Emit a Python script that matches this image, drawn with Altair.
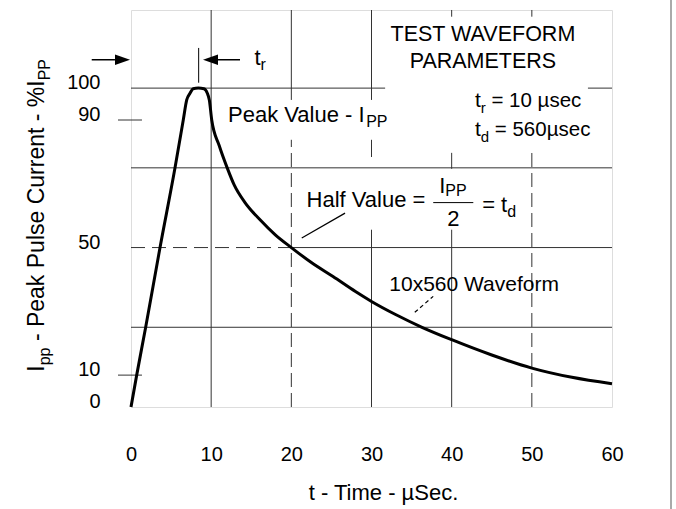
import altair as alt
import pandas as pd

FONT = "Liberation Sans"

# ---- waveform (time in µs, current in % of Ipp) ----
time_us = [0, 0.71, 1.83, 3.62, 5.49, 6.52, 6.95, 7.36, 7.75, 8.4, 9.1, 9.52, 9.77,
           10.07, 11.0, 12.0, 12.9, 14.2, 16.1, 18.0, 20.0, 22.5, 25.2, 28.0, 30.0,
           33.0, 36.3, 40.0, 45.0, 50.0, 55.0, 60.0]
current_pct = [0, 10, 25, 50, 75, 90, 96.3, 98.4, 99.8, 100, 99.8, 98.4, 96.3,
               90, 82, 75, 69.5, 64.2, 58.7, 54, 50, 45.3, 40.9, 36.2, 33.1,
               29, 25, 21.1, 16.3, 12.2, 9.3, 7.3]

x_ticks = [0, 10, 20, 30, 40, 50, 60]
y_labels = [0, 10, 50, 90, 100]
y_small_ticks = [10, 90]

# grid segments (as drawn on the datasheet, with gaps behind the text)
h_grid_v = [25, 50, 75, 100, 100]
h_grid_t1 = [0, 20, 0, 0, 57.0]
h_grid_t2 = [60, 60, 60, 31.7, 60]
h_dash_v = [50]
h_dash_t1 = [0]
h_dash_t2 = [20]
v_grid_t = [10, 20, 30, 30, 30, 40, 40, 40, 50]
v_grid_v1 = [0, 96.3, 96.3, 78.4, 0, 122.4, 74.7, 0, 122.4]
v_grid_v2 = [124.5, 124.5, 124.5, 83.8, 55.6, 124.5, 79.7, 55.6, 124.5]
v_dash_t = [20, 50]
v_dash_v1 = [0, 0]
v_dash_v2 = [83.8, 79.7]

xs = alt.Scale(domain=[0, 60], nice=False, zero=False)
ys = alt.Scale(domain=[0, 124.5], nice=False, zero=False)

AX = alt.Axis(
    values=x_ticks, title="t - Time - µSec.", grid=False, ticks=False, tickSize=0,
    domain=False, labelFontSize=20, labelFont=FONT, labelColor="black",
    labelPadding=47, labelBaseline="middle", labelFlush=False, labelOverlap=False,
    titleFont=FONT, titleFontSize=22, titleFontWeight="normal", titleColor="black",
    titleX=252, titleY=92, titleAlign="center", titleBaseline="alphabetic")
AY = alt.Axis(
    values=y_labels, title=None, grid=False, ticks=False, tickSize=0, domain=False,
    labelFontSize=20, labelFont=FONT, labelColor="black", labelPadding=31,
    labelBaseline="middle", labelOffset=-5.5, labelFlush=False, labelOverlap=False)

# Arial / Liberation Sans advance widths (per 1000 em)
W = {' ': 278, '-': 333, '%': 889, '.': 278, '=': 584, 'µ': 576,
     'A': 667, 'C': 722, 'D': 722, 'E': 667, 'F': 611, 'H': 722, 'I': 278, 'M': 833,
     'O': 778, 'P': 667, 'R': 722, 'S': 667, 'T': 611, 'V': 667, 'W': 944,
     'a': 556, 'c': 500, 'd': 556, 'e': 556, 'f': 278, 'i': 222, 'k': 500, 'l': 222,
     'm': 833, 'n': 556, 'o': 556, 'p': 556, 'r': 333, 's': 500, 't': 278, 'u': 556,
     'v': 500, 'x': 500}


def tw(s, size):
    return sum(W.get(c, 556) for c in s) * size / 1000.0


def X(f):
    return alt.X(f, type="quantitative", scale=xs, axis=AX)


def Y(f):
    return alt.Y(f, type="quantitative", scale=ys, axis=AY)


def txt(t, v, s, size=21, align="left", dx=0, dy=0, angle=0, baseline="middle"):
    df = pd.DataFrame({"t": [t], "v": [v], "label": [s]})
    props = dict(align=align, baseline=baseline, fontSize=size, color="black", font=FONT)
    if dx:
        props["dx"] = dx
    if dy:
        props["dy"] = dy
    if angle:
        props["angle"] = angle
    return alt.Chart(df).mark_text(**props).encode(x=X("t"), y=Y("v"), text="label:N")


def rich(t, v, pieces, angle=0, baseline="middle"):
    """pieces: (text, size, dy); leading spaces become an offset, not glyphs."""
    out = []
    off = 0.0
    for s, size, dy in pieces:
        stripped = s.lstrip(" ")
        off += tw(s[: len(s) - len(stripped)], size)
        out.append(txt(t, v, stripped, size=size, dx=off, dy=dy, angle=angle, baseline=baseline))
        off += tw(stripped, size)
    return out


def seg_h(vs, t1, t2, dash=None, color="#333", width=1):
    df = pd.DataFrame({"v": vs, "t": t1, "t2": t2})
    props = dict(color=color, strokeWidth=width)
    if dash:
        props["strokeDash"] = dash
    return alt.Chart(df).mark_rule(**props).encode(x=X("t"), x2="t2", y=Y("v"))


def seg_v(ts, v1, v2, dash=None, color="#333", width=1):
    df = pd.DataFrame({"t": ts, "v": v1, "v2": v2})
    props = dict(color=color, strokeWidth=width)
    if dash:
        props["strokeDash"] = dash
    return alt.Chart(df).mark_rule(**props).encode(x=X("t"), y=Y("v"), y2="v2")


layers = []

curve_df = pd.DataFrame({"t": time_us, "v": current_pct})
base = alt.Chart(curve_df).mark_line(color="black", strokeWidth=3, interpolate="monotone").encode(
    x=X("t"), y=Y("v"))

# grid
layers.append(seg_h(h_grid_v, h_grid_t1, h_grid_t2))
layers.append(seg_h(h_dash_v, h_dash_t1, h_dash_t2, dash=[14, 7]))
layers.append(seg_v(v_grid_t, v_grid_v1, v_grid_v2))
layers.append(seg_v(v_dash_t, v_dash_v1, v_dash_v2, dash=[14, 6]))

# small y ticks crossing the axis at 10 and 90
layers.append(seg_h(y_small_ticks, [-1.62, -1.62], [1.37, 1.37]))

layers.append(base)

# rise-time markers
layers.append(seg_h([108.9], [-4.9], [-2.0], width=1.5, color="black"))
layers.append(seg_h([108.9], [10.85], [13.6], width=1.5, color="black"))
layers.append(seg_v([8.44], [101.7], [112.6], color="black"))
arrows = pd.DataFrame({"t": [-1.06], "v": [108.9]})
layers.append(alt.Chart(arrows).mark_point(shape="M-1,-0.7L1,0L-1,0.7Z", size=225, filled=True,
                                           color="black", opacity=1).encode(x=X("t"), y=Y("v")))
arrows2 = pd.DataFrame({"t": [9.92], "v": [108.9]})
layers.append(alt.Chart(arrows2).mark_point(shape="M1,-0.7L-1,0L1,0.7Z", size=225, filled=True,
                                            color="black", opacity=1).encode(x=X("t"), y=Y("v")))
layers += rich(15.4, 109.5, [("t", 22, 0), ("r", 16, 7)])

# parameter box text
layers.append(txt(43.9, 116.7, "TEST WAVEFORM", size=21.5, align="center"))
layers.append(txt(43.9, 108.2, "PARAMETERS", size=21.5, align="center"))
layers += rich(42.9, 95.9, [("t", 21, 0), ("r", 15, 7), (" = 10 µsec", 20.5, 0)])
layers += rich(42.9, 86.9, [("t", 21, 0), ("d", 15, 7), (" = 560µsec", 20.5, 0)])

# peak value
layers += rich(12.1, 91.5, [("Peak Value - I", 22, 0), ("PP", 16, 7)])

# half value
layers.append(txt(21.9, 64.8, "Half Value =", size=22))
layers += rich(38.45, 69.3, [("I", 22, 0), ("PP", 16, 5)])
layers.append(seg_h([64.1], [37.7], [42.7], color="black"))
layers.append(txt(40.2, 58.99, "2", size=22, align="center"))
layers += rich(43.8, 63.4, [("=", 22, 0), (" t", 22, 0), ("d", 16, 7)])
ptr = pd.DataFrame({"t": [21.3], "v": [53.0], "t2": [26.7], "v2": [60.8]})
layers.append(alt.Chart(ptr).mark_rule(color="black", strokeWidth=1.2).encode(
    x=X("t"), y=Y("v"), x2="t2", y2="v2"))

# waveform label
layers.append(txt(42.8, 38.3, "10x560 Waveform", size=21, align="center"))
ptr2 = pd.DataFrame({"t": [35.4], "v": [29.7], "t2": [37.7], "v2": [34.7]})
layers.append(alt.Chart(ptr2).mark_rule(color="black", strokeWidth=1.2, strokeDash=[4, 3]).encode(
    x=X("t"), y=Y("v"), x2="t2", y2="v2"))

# y-axis title (rotated, built from pieces for the subscripts)
layers += rich(-10.85, 11.07,
               [("I", 23, 0), ("pp", 16, 6), (" - Peak Pulse Current - %I", 23, 0), ("PP", 16, 6)],
               angle=270, baseline="alphabetic")

# page edge line at far right
edge = pd.DataFrame({"k": [0]})
layers.append(alt.Chart(edge).mark_rule(color="#aaaaaa", strokeWidth=2).encode(
    x=alt.value(540), y=alt.value(-10), y2=alt.value(499)))

chart = alt.layer(*layers).properties(
    width=481, height=397,
    autosize=alt.AutoSizeParams(type="none"),
    padding={"left": 131, "top": 10, "right": 64, "bottom": 102},
).configure_view(stroke="#333", strokeWidth=1).configure(font=FONT, background="white")

chart.save("out.html", embed_options={"renderer": "svg", "actions": False})
